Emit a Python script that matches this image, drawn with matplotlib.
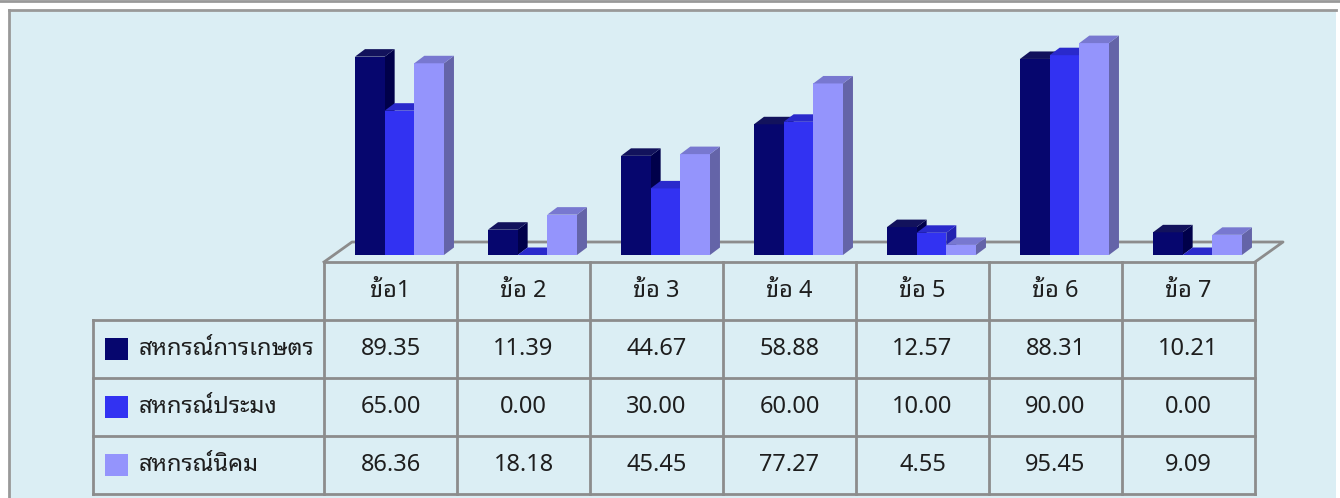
import numpy as np
import matplotlib
matplotlib.use("Agg")
import matplotlib.pyplot as plt
from matplotlib.patches import Polygon, Rectangle

# ---- data ----
categories = ["ข้อ1", "ข้อ 2", "ข้อ 3", "ข้อ 4", "ข้อ 5", "ข้อ 6", "ข้อ 7"]
series_names = ["สหกรณ์การเกษตร", "สหกรณ์ประมง", "สหกรณ์นิคม"]
kaset = [89.35, 11.39, 44.67, 58.88, 12.57, 88.31, 10.21]
pramong = [65.00, 0.00, 30.00, 60.00, 10.00, 90.00, 0.00]
nikom = [86.36, 18.18, 45.45, 77.27, 4.55, 95.45, 9.09]
series = [kaset, pramong, nikom]

front_cols = ["#06066e", "#3232f2", "#9494fc"]
side_cols = ["#00004a", "#2222b0", "#6464a8"]
top_cols = ["#12125c", "#2a2acc", "#7878d0"]
bg = "#dbeef4"
line_col = "#8c8c8c"

plt.rcParams["font.family"] = ["Noto Sans Thai Looped", "Noto Sans Thai", "DejaVu Sans"]

W, H = 1340, 498
fig = plt.figure(figsize=(W / 100, H / 100), dpi=100)
fig.patch.set_facecolor("white")

# pixel axes for frame and table
px = fig.add_axes([0, 0, 1, 1])
px.set_xlim(0, W)
px.set_ylim(H, 0)
px.axis("off")

px.plot([0, W], [1, 1], color="#999999", lw=2)
px.add_patch(Rectangle((9, 10), 1327, 500, facecolor=bg, edgecolor="none"))
px.plot([9, 1336], [10, 10], color="#999999", lw=2)
px.plot([9, 9], [10, H], color="#999999", lw=2)

# table geometry
tx0 = 324
cw = 133
lx0 = 93
row_y = [262, 320, 378, 436, 494]
tx1 = tx0 + cw * len(categories)
fs = 17
tc = "#1e1e1e"

px.plot([tx0, tx1], [row_y[0], row_y[0]], color=line_col, lw=2, zorder=3)
for y in row_y[1:]:
    px.plot([lx0, tx1], [y, y], color=line_col, lw=2, zorder=3)
px.plot([lx0, lx0], [row_y[1], row_y[-1]], color=line_col, lw=2, zorder=3)
for i in range(len(categories) + 1):
    x = tx0 + cw * i
    px.plot([x, x], [row_y[0], row_y[-1]], color=line_col, lw=2, zorder=3)

for i, c in enumerate(categories):
    px.text(tx0 + cw * (i + 0.5), (row_y[0] + row_y[1]) / 2, c,
            ha="center", va="center", fontsize=fs, color=tc)

for r, (name, vals) in enumerate(zip(series_names, series)):
    yc = (row_y[r + 1] + row_y[r + 2]) / 2
    px.add_patch(Rectangle((105, yc - 11), 23, 22, facecolor=front_cols[r],
                           edgecolor="none"))
    px.text(138, yc, name, ha="left", va="center", fontsize=fs, color=tc)
    for i, v in enumerate(vals):
        px.text(tx0 + cw * (i + 0.5), yc, "%.2f" % v, ha="center",
                va="center", fontsize=fs, color=tc)

# data axes for the 3d bars: x in category slots, y in values
ppu = 2.22          # pixels per value unit
base_px = 255       # pixel row of value 0
ax = fig.add_axes([0, 0, 1, 1])
ax.set_xlim(-tx0 / cw, (W - tx0) / cw)
ax.set_ylim(-(H - base_px) / ppu, base_px / ppu)
ax.axis("off")
ax.patch.set_alpha(0)

dx = 10 / cw        # depth offset
dy = 7.5 / ppu
floor_y = -(262 - base_px) / ppu
fdx = 28 / cw
fdy = 20 / ppu
n = len(categories)
ax.plot([0, fdx, n + fdx, n], [floor_y, floor_y + fdy, floor_y + fdy, floor_y],
        color=line_col, lw=2, zorder=2)

bw = 0.223
g0 = 0.233
z = 5
for i in range(n):
    for s in range(3):
        h = series[s][i]
        x0 = i + g0 + s * bw
        x1 = x0 + bw
        ax.add_patch(Polygon([(x1, 0), (x1 + dx, dy), (x1 + dx, h + dy), (x1, h)],
                             closed=True, facecolor=side_cols[s], edgecolor="none", zorder=z))
        ax.add_patch(Rectangle((x0, 0), bw, h, facecolor=front_cols[s],
                               edgecolor="none", zorder=z + 1))
        ax.add_patch(Polygon([(x0, h), (x0 + dx, h + dy), (x1 + dx, h + dy), (x1, h)],
                             closed=True, facecolor=top_cols[s], edgecolor="none", zorder=z + 1))
        z += 2

fig.savefig("out.png", dpi=100, facecolor=fig.get_facecolor())
